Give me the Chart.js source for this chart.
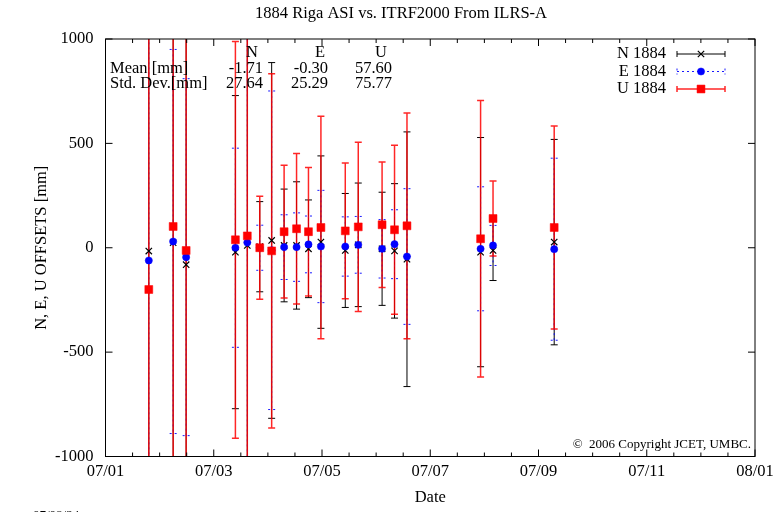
<!DOCTYPE html>
<html>
<head>
<meta charset="utf-8">
<script src="https://cdn.jsdelivr.net/npm/chart.js@4.4.1/dist/chart.umd.min.js"></script>
<style>
body { margin: 0; background: #fff; }
</style>
</head>
<body>
<canvas id="graf" width="774" height="512"></canvas>
<script>
// x = months since 2007/01
let meses = [0.80, 1.25, 1.49, 2.40, 2.62, 2.85, 3.07, 3.30, 3.53, 3.75, 3.98, 4.43, 4.67, 5.11, 5.34, 5.57, 6.93, 7.16, 8.29]
let rotulosX = ['07/01', '07/03', '07/05', '07/07', '07/09', '07/11', '08/01']

let valoresN = [-16, 24, -81, -21, 11, 5, 35, 11, 11, -5, 27, -13, 14, -5, -15, -55, -21, -13, 27]
let valoresE = [-61, 30, -45, 0, 25, 0, -12, 3, 3, 16, 6, 6, 14, -5, 17, -42, -5, 11, -7]
let valoresU = [-200, 102, -13, 38, 57, 0, -15, 77, 91, 77, 97, 81, 100, 110, 86, 105, 43, 140, 97]

let errosN = [1500, 1500, 1500, 750, 1500, 216, 852, 270, 305, 234, 413, 273, 296, 271, 322, 610, 549, 144, 492]
let errosE = [1500, 920, 855, 477, 1500, 108, 763, 155, 164, 136, 269, 142, 136, 140, 165, 325, 297, 96, 436]
let errosU = [1500, 1500, 1500, 950, 1500, 247, 849, 318, 360, 308, 533, 325, 405, 301, 405, 541, 662, 180, 486]

let colunas = ['N', 'E', 'U']
let linhasEstat = ['Mean [mm]', 'Std. Dev.[mm]']
let medias = ['-1.71', '-0.30', '57.60']
let desvios = ['27.64', '25.29', '75.77']

let titulo = '1884 Riga ASI vs. ITRF2000 From ILRS-A'

const FONTE = 'Liberation Serif'

function pontos(vals) {
    let out = []
    for (let i = 0; i < meses.length; i++) out.push({ x: meses[i], y: vals[i] })
    return out
}

const series = [
    { label: 'N 1884', data: pontos(valoresN), err: errosN, corBarra: 'rgba(0,0,0,1)', larg: 1, tracejado: [],
      pointStyle: 'crossRot', pointRadius: 4.5, borderColor: '#000', backgroundColor: '#000', pointBorderWidth: 1.2, order: 3 },
    { label: 'E 1884', data: pontos(valoresE), err: errosE, corBarra: 'rgba(0,0,255,0.9)', larg: 1, tracejado: [2, 3],
      pointStyle: 'circle', pointRadius: 3.6, borderColor: '#00f', backgroundColor: '#00f', pointBorderWidth: 0.5, order: 2 },
    { label: 'U 1884', data: pontos(valoresU), err: errosU, corBarra: 'rgba(255,0,0,0.85)', larg: 1.5, tracejado: [],
      pointStyle: 'rect', pointRadius: 5.6, borderColor: '#f00', backgroundColor: '#f00', pointBorderWidth: 0.5, order: 1 }
]

function barra(ctx, px, top, bot, cap) {
    ctx.beginPath()
    ctx.moveTo(px, top); ctx.lineTo(px, bot)
    ctx.moveTo(px - cap, top); ctx.lineTo(px + cap, top)
    ctx.moveTo(px - cap, bot); ctx.lineTo(px + cap, bot)
    ctx.stroke()
}

const barrasErro = {
    id: 'barrasErro',
    beforeDatasetsDraw(chart) {
        const { ctx, chartArea: a, scales: { x, y } } = chart
        ctx.save()
        ctx.beginPath()
        ctx.rect(a.left, a.top, a.width, a.height)
        ctx.clip()
        chart.data.datasets.forEach(ds => {
            ctx.strokeStyle = ds.corBarra
            ctx.lineWidth = ds.larg
            ctx.setLineDash(ds.tracejado)
            ds.data.forEach((p, i) => {
                const px = x.getPixelForValue(p.x)
                barra(ctx, px, y.getPixelForValue(p.y + ds.err[i]), y.getPixelForValue(p.y - ds.err[i]), 3.5)
            })
        })
        ctx.restore()
    }
}

const moldura = {
    id: 'moldura',
    afterDraw(chart) {
        const { ctx, chartArea: a, scales: { x, y } } = chart
        ctx.save()
        ctx.strokeStyle = '#000'
        ctx.lineWidth = 1
        ctx.strokeRect(a.left, a.top, a.width, a.height)
        ctx.beginPath()
        for (let v = 0; v <= 12.001; v += 0.5) {
            const px = x.getPixelForValue(v)
            const t = (Math.abs(v % 2) < 0.01) ? 7 : 4
            ctx.moveTo(px, a.bottom); ctx.lineTo(px, a.bottom - t)
            ctx.moveTo(px, a.top); ctx.lineTo(px, a.top + t)
        }
        for (let v = -1000; v <= 1000; v += 500) {
            const py = y.getPixelForValue(v)
            ctx.moveTo(a.left, py); ctx.lineTo(a.left + 7, py)
            ctx.moveTo(a.right, py); ctx.lineTo(a.right - 7, py)
        }
        ctx.stroke()

        ctx.fillStyle = '#000'
        ctx.textBaseline = 'middle'
        ctx.font = '16.5px "' + FONTE + '"'
        ctx.textAlign = 'center'
        ctx.fillText(titulo, 401, 14)

        // tabela de estatisticas
        ctx.textAlign = 'left'
        ctx.fillText(linhasEstat[0], 110, 69)
        ctx.fillText(linhasEstat[1], 110, 84)
        const dirCol = [263, 328, 392]
        const dirCab = [258, 325, 387]
        ctx.textAlign = 'right'
        for (let i = 0; i < 3; i++) {
            ctx.fillText(colunas[i], dirCab[i], 53)
            ctx.fillText(medias[i], dirCol[i], 69)
            ctx.fillText(desvios[i], dirCol[i], 84)
        }

        // legenda
        const linhasLeg = [54, 71.5, 89]
        chart.data.datasets.forEach((ds, i) => {
            const ly = linhasLeg[i]
            ctx.fillStyle = '#000'
            ctx.textAlign = 'right'
            ctx.fillText(ds.label, 666, ly)
            ctx.strokeStyle = ds.corBarra
            ctx.lineWidth = ds.larg
            ctx.setLineDash(ds.tracejado)
            ctx.beginPath()
            ctx.moveTo(677, ly); ctx.lineTo(725, ly)
            ctx.moveTo(677, ly - 3); ctx.lineTo(677, ly + 3)
            ctx.moveTo(725, ly - 3); ctx.lineTo(725, ly + 3)
            ctx.stroke()
            ctx.setLineDash([])
            ctx.fillStyle = ds.backgroundColor
            ctx.strokeStyle = ds.borderColor
            ctx.lineWidth = ds.pointBorderWidth
            Chart.helpers.drawPoint(ctx, {
                pointStyle: ds.pointStyle, radius: ds.pointRadius, rotation: 0, borderWidth: ds.pointBorderWidth
            }, 701, ly)
        })

        ctx.fillStyle = '#000'
        ctx.font = '13px "' + FONTE + '"'
        ctx.textAlign = 'right'
        ctx.fillText('\u00a9  2006 Copyright JCET, UMBC.', 751, 445)
        ctx.textAlign = 'left'
        ctx.fillText('07/08/24', 33, 516)
        ctx.restore()
    }
}

const config = {
    type: 'scatter',
    data: { datasets: series },
    options: {
        responsive: false,
        animation: false,
        events: [],
        layout: { padding: { left: 0, right: 19, top: 39, bottom: 0 } },
        plugins: {
            legend: { display: false },
            tooltip: { enabled: false },
            title: { display: false }
        },
        scales: {
            x: {
                type: 'linear',
                min: 0, max: 12,
                afterFit: s => { s.height = 55.5; s.paddingLeft = 0; s.paddingRight = 0 },
                grid: { display: false, drawTicks: false },
                border: { display: false },
                ticks: {
                    stepSize: 2,
                    padding: 5,
                    color: '#000',
                    font: { family: FONTE, size: 16.5 },
                    callback: v => rotulosX[Math.round(v / 2)]
                },
                title: { display: true, text: 'Date', color: '#000', font: { family: FONTE, size: 16.5 }, padding: { top: 0, bottom: 4.2 } }
            },
            y: {
                min: -1000, max: 1000,
                afterFit: s => { s.width = 105.5; s.paddingTop = 0; s.paddingBottom = 0 },
                grid: { display: false, drawTicks: false },
                border: { display: false },
                ticks: { stepSize: 500, padding: 12, color: '#000', font: { family: FONTE, size: 16.5 }, callback: v => String(v) },
                title: { display: true, text: 'N, E, U OFFSETS [mm]', color: '#000', font: { family: FONTE, size: 16.5 }, padding: { top: 32, bottom: 0 } }
            }
        }
    },
    plugins: [barrasErro, moldura]
}

const ctx = document.getElementById('graf').getContext('2d')
const meuGrafico = new Chart(ctx, config)
</script>
</body>
</html>
